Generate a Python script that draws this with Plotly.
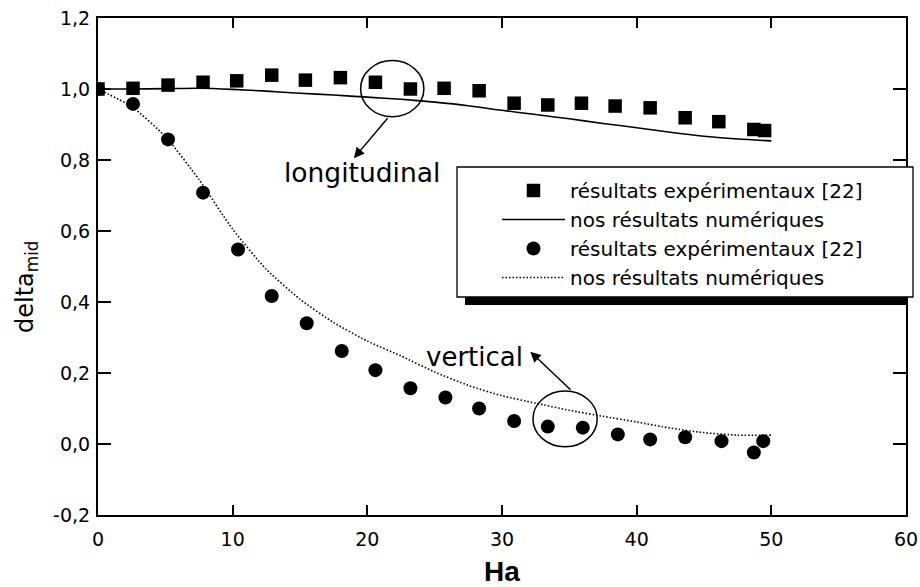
import plotly.graph_objects as go

# ---------------- data ----------------
ha_long = [0, 2.6, 5.2, 7.8, 10.3, 12.9, 15.4, 18.0, 20.6, 23.2, 25.7, 28.3, 30.9,
           33.4, 35.9, 38.4, 41.0, 43.6, 46.1, 48.7, 49.5]
long_exp = [1.0, 1.002, 1.011, 1.019, 1.023, 1.039, 1.025, 1.032, 1.019, 1.0, 1.002,
            0.995, 0.96, 0.955, 0.96, 0.952, 0.947, 0.919, 0.908, 0.886, 0.883]

ha_vert = [0, 2.6, 5.2, 7.8, 10.4, 12.9, 15.5, 18.1, 20.6, 23.2, 25.8, 28.3, 30.9,
           33.4, 36.0, 38.6, 41.0, 43.6, 46.3, 48.7, 49.4]
vert_exp = [1.0, 0.958, 0.858, 0.708, 0.548, 0.417, 0.340, 0.262, 0.208, 0.157, 0.131,
            0.100, 0.065, 0.049, 0.046, 0.027, 0.013, 0.019, 0.008, -0.024, 0.008]

ha_model = [0, 2.5, 5, 7.5, 10, 12.5, 15, 17.5, 20, 22.5, 25, 27.5, 30, 32.5, 35,
            37.5, 40, 42.5, 45, 47.5, 50]
long_num = [1.0, 1.0, 1.001, 1.002, 0.999, 0.994, 0.988, 0.983, 0.977, 0.971, 0.963,
            0.953, 0.940, 0.928, 0.916, 0.903, 0.891, 0.878, 0.867, 0.859, 0.854]
vert_num = [1.0, 0.950, 0.866, 0.745, 0.605, 0.492, 0.408, 0.342, 0.29, 0.248, 0.203,
            0.165, 0.136, 0.115, 0.095, 0.078, 0.062, 0.045, 0.032, 0.025, 0.025]

x_ticks = [0, 10, 20, 30, 40, 50, 60]
y_tick_vals = [-0.2, 0.0, 0.2, 0.4, 0.6, 0.8, 1.0, 1.2]
y_tick_text = ["-0,2", "0,0", "0,2", "0,4", "0,6", "0,8", "1,0", "1,2"]

leg_exp = "résultats expérimentaux [22]"
leg_num = "nos résultats numériques"
y_title = "delta<sub>mid</sub>"
x_title = "<b>Ha</b>"

# ---------------- layout geometry ----------------
W, H = 920, 587
ML, MR, MT, MB = 98, 14, 18, 72
PW, PH = W - ML - MR, H - MT - MB


def px(xp):
    return (xp - ML) / PW


def py(yp):
    return (H - MB - yp) / PH


BIG = "DejaVu Sans"
TICKF = "DejaVu Sans"

fig = go.Figure()
fig.add_trace(go.Scatter(x=ha_long, y=long_exp, mode="markers", name=leg_exp,
                         marker=dict(symbol="square", size=13.5, color="black",
                                     line=dict(width=0))))
fig.add_trace(go.Scatter(x=ha_model, y=long_num, mode="lines", name=leg_num,
                         line=dict(color="black", width=1.6, shape="spline",
                                   smoothing=0.8)))
fig.add_trace(go.Scatter(x=ha_vert, y=vert_exp, mode="markers", name=leg_exp,
                         marker=dict(symbol="circle", size=14, color="black",
                                     line=dict(width=0))))
fig.add_trace(go.Scatter(x=ha_model, y=vert_num, mode="lines", name=leg_num,
                         line=dict(color="black", width=1.6, dash="1.5px,2px",
                                   shape="spline", smoothing=0.6)))

shapes = [
    # legend shadow and box
    dict(type="rect", xref="paper", yref="paper", x0=px(465), x1=px(906),
         y0=py(305), y1=py(175), fillcolor="black", line=dict(width=0),
         layer="above"),
    dict(type="rect", xref="paper", yref="paper", x0=px(457), x1=px(913),
         y0=py(297), y1=py(167), fillcolor="white",
         line=dict(color="black", width=1.3), layer="above"),
    # ellipses
    dict(type="circle", xref="x", yref="y", x0=19.5, x1=24.2, y0=0.922, y1=1.080,
         line=dict(color="black", width=1.5), layer="above"),
    dict(type="circle", xref="x", yref="y", x0=32.3, x1=37.07, y0=-0.008, y1=0.149,
         line=dict(color="black", width=1.5), layer="above"),
]

annotations = [
    dict(x=19.0, y=0.805, ax=21.6, ay=0.922, xref="x", yref="y", axref="x", ayref="y",
         text="", showarrow=True, arrowhead=2, arrowsize=1.4, arrowwidth=1.5,
         arrowcolor="black"),
    dict(x=32.1, y=0.26, ax=35.2, ay=0.149, xref="x", yref="y", axref="x", ayref="y",
         text="", showarrow=True, arrowhead=2, arrowsize=1.4, arrowwidth=1.5,
         arrowcolor="black"),
    dict(x=19.6, y=0.765, xref="x", yref="y", text="longitudinal", showarrow=False,
         font=dict(family=BIG, size=26.5, color="black"), xanchor="center",
         yanchor="middle"),
    dict(x=27.97, y=0.245, xref="x", yref="y", text="vertical", showarrow=False,
         font=dict(family=BIG, size=26, color="black"), xanchor="center",
         yanchor="middle"),
    # y axis title (placed lower than centre, as in the reference)
    dict(x=px(26), y=py(287), xref="paper", yref="paper", text=y_title,
         showarrow=False, textangle=-90, xanchor="center", yanchor="middle",
         font=dict(family=BIG, size=24, color="black")),
]

axis_common = dict(showline=True, linecolor="black", linewidth=2, mirror="ticks",
                   ticks="inside", tickcolor="black", tickwidth=2,
                   showgrid=False, zeroline=False, automargin=False,
                   tickfont=dict(family=TICKF, size=19, color="black"))

fig.update_layout(
    width=W, height=H,
    margin=dict(l=ML, r=MR, t=MT, b=MB, pad=0, autoexpand=False),
    plot_bgcolor="white", paper_bgcolor="white",
    showlegend=True,
    legend=dict(x=px(497), y=py(171), xanchor="left", yanchor="top",
                bgcolor="rgba(0,0,0,0)", borderwidth=0, itemwidth=63,
                font=dict(family=BIG, size=20, color="black"),
                tracegroupgap=0),
    xaxis=dict(range=[0, 60], tickvals=x_ticks, ticklen=10, ticklabelstandoff=6,
               title=dict(text=x_title, standoff=14,
                          font=dict(family="Liberation Sans", size=28, color="black")),
               **axis_common),
    yaxis=dict(range=[-0.2, 1.2], tickvals=y_tick_vals, ticktext=y_tick_text,
               ticklen=13, ticklabelstandoff=2,
               **axis_common),
    shapes=shapes,
    annotations=annotations,
)

fig.write_html("out.html")
